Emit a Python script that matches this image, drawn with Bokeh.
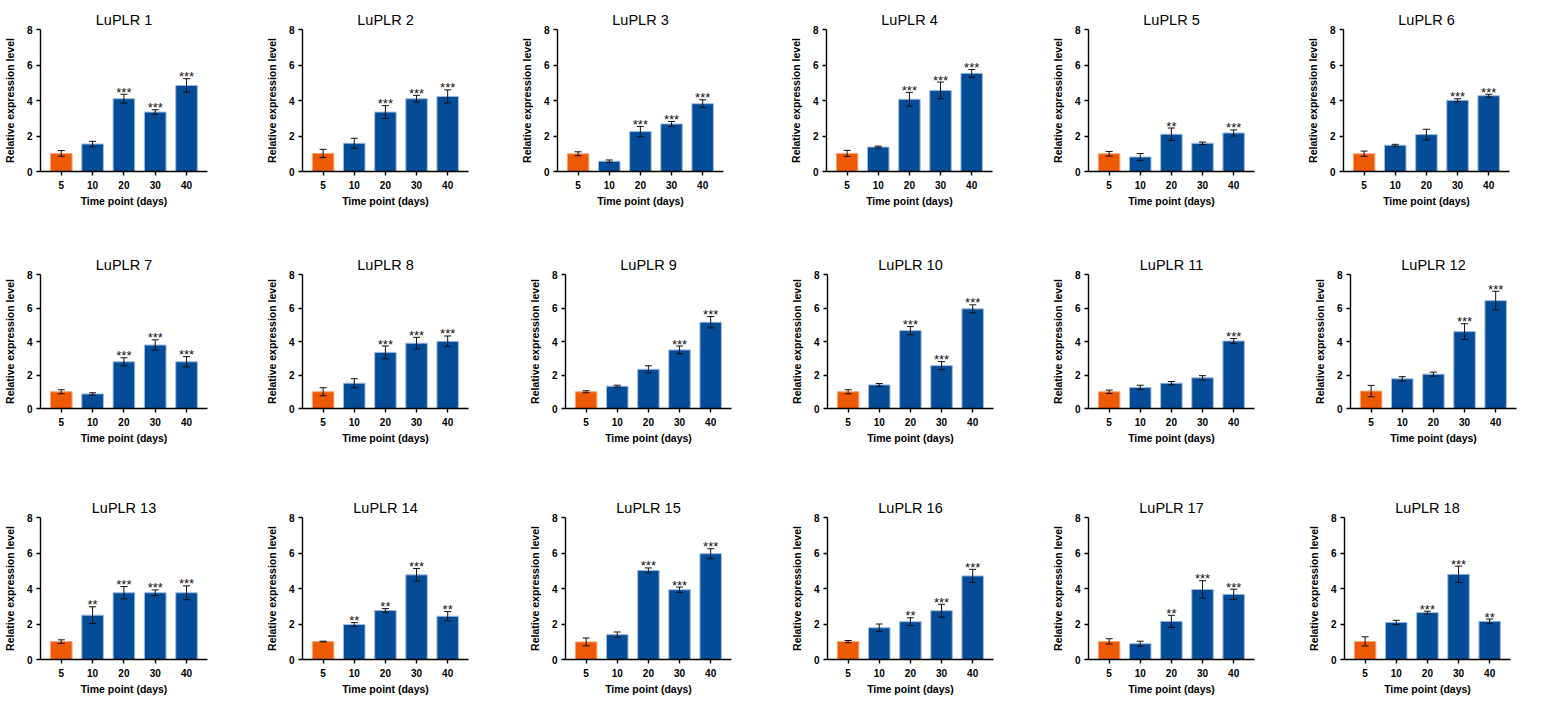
from bokeh.plotting import figure
from bokeh.models import Range1d, FixedTicker, ColumnDataSource, Whisker, TeeHead
from bokeh.layouts import column, row
from bokeh.core.properties import value
from bokeh.embed import file_html
from bokeh.resources import INLINE

# ---------------- data ----------------
categories = ["5", "10", "20", "30", "40"]
x_label = "Time point (days)"
y_label = "Relative expression level"
gene_names = ["LuPLR 1", "LuPLR 2", "LuPLR 3", "LuPLR 4", "LuPLR 5", "LuPLR 6",
              "LuPLR 7", "LuPLR 8", "LuPLR 9", "LuPLR 10", "LuPLR 11", "LuPLR 12",
              "LuPLR 13", "LuPLR 14", "LuPLR 15", "LuPLR 16", "LuPLR 17", "LuPLR 18"]

luplr1_mean = [1.02, 1.55, 4.10, 3.35, 4.85]
luplr1_err = [0.16, 0.15, 0.25, 0.13, 0.38]
luplr1_sig = ["", "", "***", "***", "***"]

luplr2_mean = [1.02, 1.59, 3.35, 4.10, 4.23]
luplr2_err = [0.23, 0.28, 0.36, 0.19, 0.37]
luplr2_sig = ["", "", "***", "***", "***"]

luplr3_mean = [1.00, 0.58, 2.25, 2.68, 3.82]
luplr3_err = [0.11, 0.07, 0.29, 0.14, 0.22]
luplr3_sig = ["", "", "***", "***", "***"]

luplr4_mean = [1.02, 1.38, 4.07, 4.57, 5.53]
luplr4_err = [0.17, 0.05, 0.39, 0.47, 0.22]
luplr4_sig = ["", "", "***", "***", "***"]

luplr5_mean = [1.00, 0.82, 2.10, 1.59, 2.17]
luplr5_err = [0.13, 0.19, 0.35, 0.07, 0.17]
luplr5_sig = ["", "", "**", "", "***"]

luplr6_mean = [1.00, 1.48, 2.08, 4.01, 4.27]
luplr6_err = [0.15, 0.05, 0.30, 0.09, 0.08]
luplr6_sig = ["", "", "", "***", "***"]

luplr7_mean = [1.00, 0.87, 2.79, 3.79, 2.79]
luplr7_err = [0.12, 0.07, 0.24, 0.31, 0.31]
luplr7_sig = ["", "", "***", "***", "***"]

luplr8_mean = [1.00, 1.51, 3.35, 3.90, 4.01]
luplr8_err = [0.24, 0.27, 0.38, 0.35, 0.32]
luplr8_sig = ["", "", "***", "***", "***"]

luplr9_mean = [1.00, 1.33, 2.34, 3.50, 5.15]
luplr9_err = [0.06, 0.06, 0.21, 0.23, 0.34]
luplr9_sig = ["", "", "", "***", "***"]

luplr10_mean = [1.00, 1.41, 4.65, 2.56, 5.95]
luplr10_err = [0.12, 0.08, 0.24, 0.24, 0.24]
luplr10_sig = ["", "", "***", "***", "***"]

luplr11_mean = [1.00, 1.26, 1.51, 1.83, 4.03]
luplr11_err = [0.10, 0.13, 0.10, 0.13, 0.15]
luplr11_sig = ["", "", "", "", "***"]

luplr12_mean = [1.04, 1.77, 2.05, 4.59, 6.44]
luplr12_err = [0.34, 0.13, 0.12, 0.47, 0.56]
luplr12_sig = ["", "", "", "***", "***"]

luplr13_mean = [1.01, 2.50, 3.76, 3.76, 3.76]
luplr13_err = [0.10, 0.47, 0.35, 0.16, 0.39]
luplr13_sig = ["", "**", "***", "***", "***"]

luplr14_mean = [1.01, 1.97, 2.76, 4.77, 2.44]
luplr14_err = [0.02, 0.11, 0.11, 0.36, 0.26]
luplr14_sig = ["", "**", "**", "***", "**"]

luplr15_mean = [0.99, 1.40, 5.02, 3.93, 5.96]
luplr15_err = [0.22, 0.15, 0.14, 0.15, 0.28]
luplr15_sig = ["", "", "***", "***", "***"]

luplr16_mean = [1.01, 1.79, 2.13, 2.75, 4.71]
luplr16_err = [0.06, 0.21, 0.22, 0.36, 0.37]
luplr16_sig = ["", "", "**", "***", "***"]

luplr17_mean = [1.02, 0.89, 2.15, 3.95, 3.67]
luplr17_err = [0.15, 0.14, 0.34, 0.49, 0.29]
luplr17_sig = ["", "", "**", "***", "***"]

luplr18_mean = [1.02, 2.09, 2.64, 4.80, 2.15]
luplr18_err = [0.26, 0.12, 0.08, 0.46, 0.13]
luplr18_sig = ["", "", "***", "***", "**"]

y_ticks = [0, 2, 4, 6, 8]
y_max = 8

panels = [
    (luplr1_mean, luplr1_err, luplr1_sig), (luplr2_mean, luplr2_err, luplr2_sig),
    (luplr3_mean, luplr3_err, luplr3_sig), (luplr4_mean, luplr4_err, luplr4_sig),
    (luplr5_mean, luplr5_err, luplr5_sig), (luplr6_mean, luplr6_err, luplr6_sig),
    (luplr7_mean, luplr7_err, luplr7_sig), (luplr8_mean, luplr8_err, luplr8_sig),
    (luplr9_mean, luplr9_err, luplr9_sig), (luplr10_mean, luplr10_err, luplr10_sig),
    (luplr11_mean, luplr11_err, luplr11_sig), (luplr12_mean, luplr12_err, luplr12_sig),
    (luplr13_mean, luplr13_err, luplr13_sig), (luplr14_mean, luplr14_err, luplr14_sig),
    (luplr15_mean, luplr15_err, luplr15_sig), (luplr16_mean, luplr16_err, luplr16_sig),
    (luplr17_mean, luplr17_err, luplr17_sig), (luplr18_mean, luplr18_err, luplr18_sig),
]

# ---------------- layout / style ----------------
FONT = "Liberation Sans"
ORANGE = "#EE5A04"
ORANGE_EDGE = "#F6A878"
BLUE = "#054C98"
BLUE_EDGE = "#9DBBE0"
BAR_WIDTH = 0.69
PX_PER_UNIT = 31.7
FIRST_PAD = 21           # px from y axis to first bar centre
FW, FH = 169, 142        # frame size
L = 37                   # left border
row_axes = [[38, 299, 554, 823, 1085, 1340],
            [38, 299, 562, 824, 1085, 1347],
            [38, 299, 562, 824, 1085, 1341]]
row_tops = [[29, 29, 29, 29, 29, 29],
            [266, 266, 272, 274, 274, 274],
            [517, 517, 517, 517, 517, 517]]
band_tops = [0, 236, 480]
band_heights = [236, 244, 224]


def make_panel(name, mean, err, sig, width, height, left_border, top_border, right_border):
    x0 = -FIRST_PAD / PX_PER_UNIT
    p = figure(width=width, height=height,
               x_range=Range1d(x0, x0 + FW / PX_PER_UNIT),
               y_range=Range1d(0, y_max),
               output_backend="svg", toolbar_location=None,
               min_border_left=left_border, min_border_right=right_border,
               min_border_top=top_border,
               min_border_bottom=height - top_border - FH)
    p.outline_line_color = None
    p.xgrid.visible = False
    p.ygrid.visible = False
    p.background_fill_color = "white"
    p.border_fill_color = "white"

    p.title.text = name
    p.title.align = "center"
    p.title.text_font = FONT
    p.title.text_font_size = "14.5px"
    p.title.text_font_style = "normal"
    p.title.text_color = "black"
    p.title.standoff = 4

    xs = list(range(len(categories)))
    colors = [ORANGE] + [BLUE] * (len(categories) - 1)
    edges = [ORANGE_EDGE] + [BLUE_EDGE] * (len(categories) - 1)
    src = ColumnDataSource(dict(
        x=xs, top=mean,
        upper=[m + e for m, e in zip(mean, err)],
        lower=[m - e for m, e in zip(mean, err)],
        sig=sig, color=colors, edge=edges))
    p.vbar(x="x", top="top", width=BAR_WIDTH, source=src,
           fill_color="color", line_color="edge", line_width=1)
    w = Whisker(source=src, base="x", upper="upper", lower="lower",
                dimension="height", line_color="#111111", line_width=1,
                upper_head=TeeHead(size=7, line_color="#111111", line_width=1),
                lower_head=TeeHead(size=7, line_color="#111111", line_width=1))
    w.level = "overlay"
    p.add_layout(w)
    p.text(x="x", y="upper", text="sig", source=src,
           text_align="center", text_baseline="alphabetic", y_offset=-2,
           text_font=value(FONT), text_font_size="13px", text_color="#111111")

    p.xaxis.ticker = FixedTicker(ticks=xs)
    p.xaxis.major_label_overrides = {i: c for i, c in enumerate(categories)}
    p.yaxis.ticker = FixedTicker(ticks=y_ticks)
    p.xaxis.axis_label = x_label
    p.yaxis.axis_label = y_label
    for ax in (p.xaxis, p.yaxis):
        ax.axis_line_width = 1.4
        ax.axis_line_color = "black"
        ax.major_tick_line_width = 1.4
        ax.major_tick_line_color = "black"
        ax.major_tick_in = 0
        ax.major_tick_out = 4
        ax.minor_tick_line_color = None
        ax.major_label_text_font = FONT
        ax.major_label_text_font_size = "10px"
        ax.major_label_text_font_style = "bold"
        ax.major_label_text_color = "black"
        ax.axis_label_text_font = FONT
        ax.axis_label_text_font_size = "10.5px"
        ax.axis_label_text_font_style = "bold"
        ax.axis_label_text_color = "black"
    p.xaxis.major_label_standoff = 5
    p.yaxis.major_label_standoff = 4
    p.xaxis.axis_label_standoff = 3
    p.yaxis.axis_label_standoff = 8
    return p


rows = []
for r in range(3):
    figs = []
    starts = [0] + [a - L for a in row_axes[r][1:]]
    for c in range(6):
        idx = r * 6 + c
        left_border = row_axes[r][c] - starts[c]
        if c < 5:
            width = starts[c + 1] - starts[c]
        else:
            width = left_border + FW + 14
        right_border = width - left_border - FW
        top_border = row_tops[r][c] - band_tops[r]
        mean, err, sig = panels[idx]
        figs.append(make_panel(gene_names[idx], mean, err, sig, width,
                               band_heights[r], left_border, top_border, right_border))
    rows.append(row(*figs, spacing=0))

layout = column(*rows, spacing=0)
open("out.html", "w").write(file_html(layout, INLINE))
